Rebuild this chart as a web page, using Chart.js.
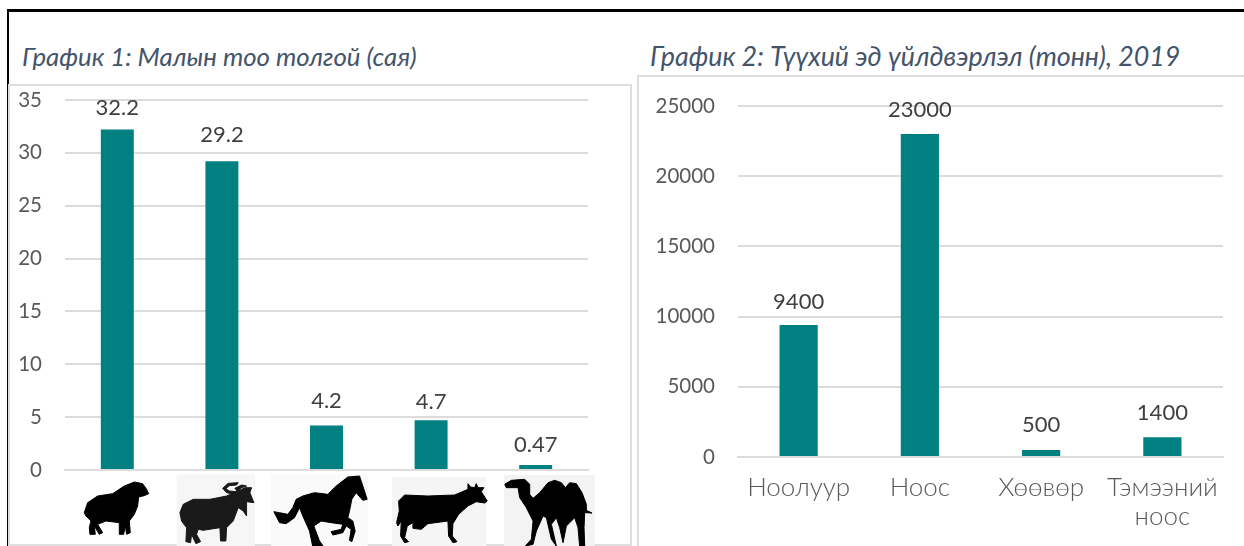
<!DOCTYPE html>
<html lang="mn">

<head>
    <meta charset="utf-8">
    <title>График 1, График 2</title>
    <script src="https://cdn.jsdelivr.net/npm/chart.js"></script>
    <style>
        html, body { margin: 0; padding: 0; background: #fff; }
        body { position: relative; width: 1244px; height: 546px; overflow: hidden; font-family: Lato, "Noto Sans", sans-serif; }
        .rule { position: absolute; background: #000; }
        .frame { position: absolute; border: 2px solid #dedede; box-sizing: border-box; }
        h2 { position: absolute; margin: 0; font-weight: 400; font-style: italic; color: #44546a; white-space: nowrap; line-height: 30px; }
        canvas { position: absolute; }
    </style>
</head>

<body>
    <div class="rule" style="left:7px;top:9px;width:1237px;height:3px"></div>
    <div class="rule" style="left:7px;top:9px;width:2px;height:537px"></div>
    <h2 style="left:22px;top:41px;font-size:25.8px">График 1: Малын тоо толгой (сая)</h2>
    <h2 style="left:650px;top:41px;font-size:26.8px">График 2: Түүхий эд үйлдвэрлэл (тонн), 2019</h2>
    <div class="frame" style="left:8px;top:84px;width:624px;height:462px"></div>
    <div class="frame" style="left:637px;top:75px;width:610px;height:475px"></div>
    <canvas id="herdChart" width="623" height="461" style="left:8px;top:85px"></canvas>
    <canvas id="materialChart" width="605" height="469" style="left:639px;top:77px"></canvas>

    <script>
        const herdCategories = ["Хонь", "Ямаа", "Адуу", "Үхэр", "Тэмээ"];
        const herdValues = [32.2, 29.2, 4.2, 4.7, 0.47];
        const herdTicks = [0, 5, 10, 15, 20, 25, 30, 35];

        const materialCategories = ["Ноолуур", "Ноос", "Хөөвөр", ["Тэмээний", "ноос"]];
        const materialValues = [9400, 23000, 500, 1400];
        const materialTicks = [0, 5000, 10000, 15000, 20000, 25000];

        const TEAL = "#008080";
        const GRID = "#dcdcdc";
        const FONT = "Lato, 'Noto Sans', sans-serif";

        // the animal pictures under chart 1, traced at 3x, origin relative to the tick
        const herdIcons = [
            { dx: -48, path: "M45,125 L55,95 L85,75 L130,68 L165,45 L195,33 L220,38 L232,55 L238,68 L225,74 L208,78 L205,105 L195,130 L180,150 L183,185 L172,190 L168,165 L163,190 L150,190 L150,155 L110,150 L85,160 L100,185 L90,190 L75,165 L78,190 L62,190 L60,170 L65,150 L50,135 Z" },
            { dx: -152, bg: [320, 10, 235, 218, "#f6f6f6"], fill: "#1a1a1a", path: "M330,125 L340,100 L370,85 L420,85 L470,75 L500,62 L525,50 L545,50 L540,65 L552,95 L530,92 L530,135 L520,120 L505,110 L490,150 L470,170 L468,210 L452,210 L450,170 L400,178 L385,175 L380,190 L392,212 L378,218 L365,190 L362,215 L348,212 L350,170 L335,150 Z M495,70 L470,65 L458,52 L475,37 L505,35 L500,42 L478,44 L468,53 L478,60 L500,62 Z M505,65 L495,52 L515,42 L530,45 L515,50 L508,56 L515,62 Z" },
            { dx: -62, bg: [20, 10, 290, 218, "#fafafa"], path: "M28,122 L45,125 L70,130 L85,110 L95,85 L115,75 L150,65 L190,70 L215,45 L250,18 L285,15 L295,45 L308,85 L295,88 L275,65 L262,85 L255,120 L250,140 L265,150 L272,180 L262,212 L255,208 L260,175 L245,165 L235,185 L205,192 L200,182 L230,175 L235,160 L200,155 L170,150 L148,165 L165,210 L178,228 L145,228 L135,180 L115,135 L105,110 L90,140 L65,158 L45,155 Z" },
            { dx: -46.5, bg: [22, 18, 283, 210, "#f5f5f5"], path: "M42,90 L60,72 L130,75 L210,72 L250,55 L250,38 L258,48 L270,50 L275,38 L280,50 L298,50 L290,62 L308,90 L300,96 L275,92 L250,105 L222,130 L205,158 L203,195 L217,212 L205,215 L192,195 L190,150 L130,158 L110,175 L85,172 L85,155 L68,165 L60,200 L72,212 L60,215 L48,195 L50,150 L40,165 L36,155 L44,120 Z" },
            { dx: -41, bg: [28, 12, 272, 216, "#f3f3f3"], path: "M30,40 L50,28 L90,25 L105,40 L105,70 L115,82 L135,65 L160,35 L180,28 L200,35 L212,50 L225,35 L245,38 L262,65 L275,100 L275,118 L292,126 L270,125 L268,170 L270,225 L255,228 L250,170 L240,140 L215,165 L205,215 L195,170 L185,140 L170,160 L185,225 L170,205 L155,140 L145,135 L125,180 L115,220 L92,225 L110,205 L115,150 L95,110 L75,80 L70,50 L35,50 Z" }
        ];

        // value labels above the bars, gap in px from the bar top
        const valueLabels = {
            id: "valueLabels",
            afterDatasetsDraw(chart, args, opts) {
                const { ctx } = chart;
                const values = chart.data.datasets[0].data;
                ctx.save();
                ctx.font = "22px " + FONT;
                ctx.fillStyle = "#404040";
                ctx.textAlign = "center";
                ctx.textBaseline = "middle";
                chart.getDatasetMeta(0).data.forEach((bar, i) => {
                    ctx.fillText(String(values[i]), bar.x, bar.y - opts.gaps[i]);
                });
                ctx.restore();
            }
        };

        const herdPictures = {
            id: "herdPictures",
            afterDraw(chart) {
                const { ctx, scales } = chart;
                const top = chart.chartArea.bottom + 1;
                herdIcons.forEach((icon, i) => {
                    ctx.save();
                    ctx.translate(scales.x.getPixelForTick(i) + icon.dx, top);
                    ctx.scale(1 / 3, 1 / 3);
                    if (icon.bg) {
                        ctx.fillStyle = icon.bg[4];
                        ctx.fillRect(icon.bg[0], icon.bg[1], icon.bg[2], icon.bg[3]);
                    }
                    // the originals are soft bitmaps
                    const shape = new Path2D(icon.path);
                    ctx.filter = "blur(0.6px)";
                    ctx.fillStyle = ctx.strokeStyle = icon.fill || "#000";
                    ctx.lineWidth = 3;
                    ctx.lineJoin = "round";
                    ctx.fill(shape);
                    ctx.stroke(shape);
                    ctx.restore();
                });
            }
        };

        function makeBarChart(id, labels, values, ticks, box, gaps, extraPlugins) {
            return new Chart(document.getElementById(id), {
                type: "bar",
                data: {
                    labels: labels,
                    datasets: [{
                        data: values,
                        backgroundColor: TEAL,
                        barPercentage: 0.315,
                        categoryPercentage: 1
                    }]
                },
                options: {
                    responsive: false,
                    animation: false,
                    layout: { padding: { top: box.top, right: box.right, bottom: box.bottom, left: 0 } },
                    scales: {
                        x: {
                            grid: { display: false },
                            border: { color: GRID, width: 2 },
                            ticks: {
                                display: box.showLabels,
                                color: "#595959",
                                padding: 8,
                                maxRotation: 0,
                                autoSkip: false,
                                font: { family: FONT, size: 26, weight: 300, lineHeight: 1.12 }
                            },
                            afterFit(scale) { scale.height = box.xHeight; }
                        },
                        y: {
                            min: ticks[0],
                            max: ticks[ticks.length - 1],
                            afterBuildTicks(scale) { scale.ticks = ticks.map(v => ({ value: v })); },
                            grid: { color: GRID, lineWidth: 2, tickLength: 0 },
                            border: { display: false },
                            ticks: {
                                color: "#595959",
                                padding: 23,
                                font: { family: FONT, size: 20.5 },
                                callback: v => String(v)
                            },
                            afterFit(scale) {
                                scale.width = box.left;
                                // tick padding would otherwise push the plot area down
                                scale.paddingTop = 0;
                                scale.paddingBottom = 0;
                            }
                        }
                    },
                    plugins: {
                        legend: { display: false },
                        tooltip: { enabled: false },
                        valueLabels: { gaps: gaps }
                    }
                },
                plugins: [valueLabels].concat(extraPlugins)
            });
        }

        makeBarChart("herdChart", herdCategories, herdValues, herdTicks,
            { top: 15, right: 43, bottom: 76, left: 57, xHeight: 0, showLabels: false },
            [22, 26, 25, 18, 20], [herdPictures]);

        makeBarChart("materialChart", materialCategories, materialValues, materialTicks,
            { top: 29, right: 21, bottom: 0, left: 99, xHeight: 89, showLabels: true },
            [23, 24, 25, 24], []);
    </script>
</body>

</html>
